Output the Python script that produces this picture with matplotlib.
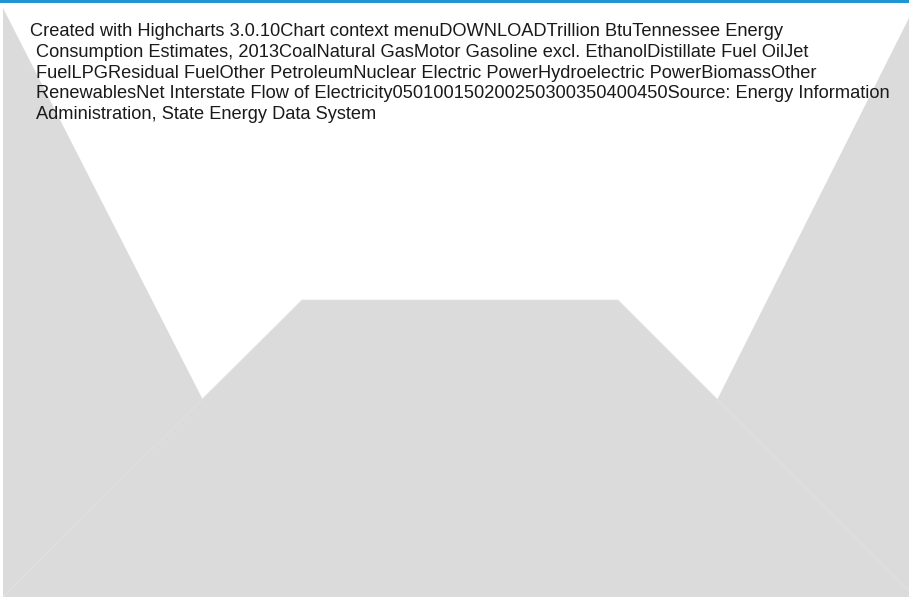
import matplotlib.pyplot as plt
from matplotlib.patches import Polygon, Rectangle

# text left behind by the failed chart render, one entry per wrapped line
text_lines = [
    "Created with Highcharts 3.0.10Chart context menuDOWNLOADTrillion BtuTennessee Energy",
    "Consumption Estimates, 2013CoalNatural GasMotor Gasoline excl. EthanolDistillate Fuel OilJet",
    "FuelLPGResidual FuelOther PetroleumNuclear Electric PowerHydroelectric PowerBiomassOther",
    "RenewablesNet Interstate Flow of Electricity050100150200250300350400450Source: Energy Information",
    "Administration, State Energy Data System",
]

# grey background shapes, pixel coords (x, y from top)
left_shape = [(3, 8), (203, 400), (3, 597)]
right_shape = [(909, 18), (909, 597), (717, 400)]
middle_shape = [(302, 300), (618, 300), (915, 597), (3, 597)]

W, H = 909, 597
fig = plt.figure(figsize=(W / 100, H / 100), dpi=100)
ax = fig.add_axes([0, 0, 1, 1])
ax.set_xlim(0, W)
ax.set_ylim(H, 0)
ax.axis('off')

grey = '#dbdbdb'
for pts in [left_shape, right_shape]:
    ax.add_patch(Polygon(pts, closed=True, facecolor=grey, edgecolor='none'))
ax.add_patch(Polygon(middle_shape, closed=True, facecolor=grey,
                     edgecolor='#e3e3e3', linewidth=0.5))

# blue strip along the top
ax.add_patch(Rectangle((0, 0), W, 2.5, facecolor='#1f96d3', edgecolor='none'))

y = 31.5
for i, line in enumerate(text_lines):
    x = 30 if i == 0 else 35.5
    ax.text(x, y, line, fontsize=13.15, family='Liberation Sans',
            color='#1a1a1a', va='center', ha='left')
    y += 20.8

fig.savefig('out.png', dpi=100)
